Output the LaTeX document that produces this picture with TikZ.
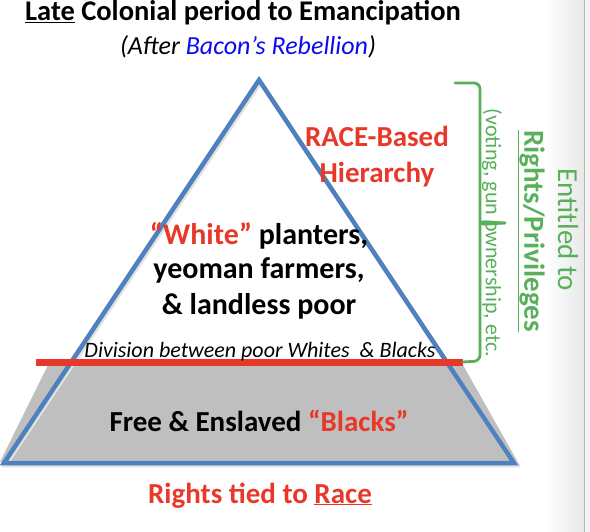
\documentclass[tikz,border=0pt]{standalone}
\usepackage{fontspec}
\setmainfont{Carlito}
\definecolor{triblue}{RGB}{79,129,189}
\definecolor{rred}{RGB}{232,56,42}
\definecolor{ggreen}{RGB}{88,176,90}
\definecolor{tblue}{RGB}{10,10,240}
\definecolor{grayfill}{RGB}{191,191,191}
\begin{document}
\begin{tikzpicture}[x=1pt,y=-1pt,
  txt/.style={anchor=base,inner sep=0pt,outer sep=0pt},
  gtxt/.style={anchor=center,inner sep=0pt,rotate=-90,text=ggreen}]
\useasboundingbox (0,0) rectangle (590,532);
% window edge
\shade[left color=white,right color=black!9] (545,0) rectangle (584,532);
\fill[black!5] (584,0) rectangle (590,532);
\draw[black!28,line width=1.5] (584.5,0) -- (584.5,532);
% pyramid
\coordinate (apex) at (259,80);
\coordinate (bl) at (4,463);
\coordinate (br) at (514,463);
\coordinate (rl) at (36,362);
\coordinate (rr) at (463,362);
\fill[grayfill] (48,365) -- (463,365) -- (520,466) -- (0,462) -- cycle;
\draw[black!12,line width=4.5,line join=miter] ([shift={(1.5,2)}]apex) -- ([shift={(1.5,2)}]bl) -- ([shift={(1.5,2)}]br) -- cycle;
\draw[triblue,line width=4.5,line join=miter] (apex) -- (bl) -- (br) -- cycle;
\draw[rred,line width=7] (rl) -- (rr);
% brace
\coordinate (btop) at (455,83);
\coordinate (btip) at (505,223);
\draw[ggreen,line width=2.8,line cap=round,rounded corners=6]
  (btop) -- (480,83) -- (480,216) to[out=-90,in=180] (btip);
\draw[ggreen,line width=2.8,line cap=round,rounded corners=6]
  (btip) to[out=180,in=90] (480,230) -- (480,361) -- (rr);
% texts
\node[txt] (title) at (243,21) {\fontsize{28.5}{32}\selectfont\bfseries \underline{Late} Colonial period to Emancipation};
\node[txt] (sub) at (248,55) {\fontsize{26}{28}\selectfont\itshape (After \textcolor{tblue}{Bacon’s Rebellion})};
\node[txt,text=rred] (race1) at (377,147) {\fontsize{29}{32}\selectfont\bfseries RACE-Based};
\node[txt,text=rred] (race2) at (377,183) {\fontsize{29}{32}\selectfont\bfseries Hierarchy};
\node[txt] (w1) at (259,245) {\fontsize{30}{34}\selectfont\bfseries \textcolor{rred}{“White”} planters,};
\node[txt] (w2) at (259,279) {\fontsize{30}{34}\selectfont\bfseries yeoman farmers,};
\node[txt] (w3) at (259,315) {\fontsize{30}{34}\selectfont\bfseries \& landless poor};
\node[txt] (div) at (260,358) {\fontsize{22}{24}\selectfont\itshape Division between poor Whites~ \& Blacks};
\node[txt] (free) at (259,431) {\fontsize{29}{32}\selectfont\bfseries Free \& Enslaved \textcolor{rred}{“Blacks”}};
\node[txt,text=rred] (rtr) at (260,503) {\fontsize{29}{32}\selectfont\bfseries Rights tied to \underline{Race}};
\node[gtxt] (paren) at (492,233) {\fontsize{22}{26}\selectfont (voting, gun ownership, etc.};
\node[gtxt] (rp) at (531,231) {\fontsize{29}{32}\selectfont\bfseries \underline{Rights/Privileges}};
\node[gtxt] (ent) at (568,230) {\fontsize{29}{32}\selectfont Entitled to};
\end{tikzpicture}
\end{document}
